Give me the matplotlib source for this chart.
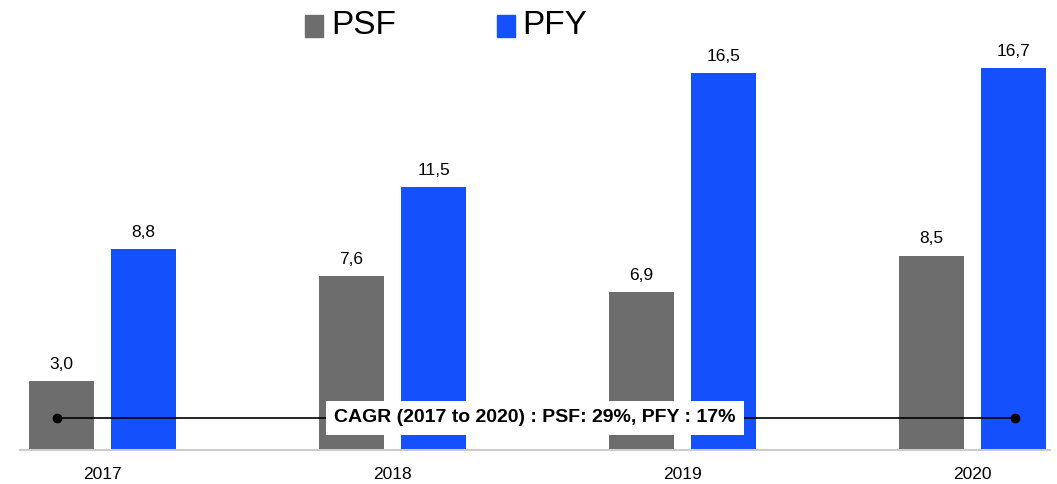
import matplotlib.pyplot as plt
from matplotlib.patches import Rectangle
import numpy as np

# data
years = ['2017', '2018', '2019', '2020']
psf = [3.0, 7.6, 6.9, 8.5]
pfy = [8.8, 11.5, 16.5, 16.7]
cagr_text = 'CAGR (2017 to 2020) : PSF: 29%, PFY : 17%'

gray = '#6d6d6d'
blue = '#1450fc'
plt.rcParams['font.family'] = ['Liberation Sans', 'DejaVu Sans']

fig = plt.figure(figsize=(10.57, 4.84), dpi=100)
ax = fig.add_axes([20/1057, 34/484, 1030/1057, 440/484])

x = np.arange(len(years))
w = 0.224
off = 0.1414
ax.bar(x - off, psf, w, color=gray)
ax.bar(x + off, pfy, w, color=blue)

def fmt(v):
    return ('%.1f' % v).replace('.', ',')

for i in range(len(years)):
    ax.text(x[i] - off, psf[i] + 0.4, fmt(psf[i]), ha='center', va='bottom', fontsize=12.5)
    ax.text(x[i] + off, pfy[i] + 0.4, fmt(pfy[i]), ha='center', va='bottom', fontsize=12.5)

ax.set_xlim(-0.2845, 3.267)
ax.set_ylim(0, 19.24)

# CAGR line
ax.plot([-0.157, 3.147], [1.4, 1.4], color='black', lw=1.2, marker='o', ms=6, zorder=3)
ax.text(1.49, 1.4, cagr_text, ha='center', va='center', fontsize=14, fontweight='bold',
        bbox=dict(facecolor='white', edgecolor='none', pad=6), zorder=4)

for s in ['top', 'right', 'left']:
    ax.spines[s].set_visible(False)
ax.spines['bottom'].set_color('#cccccc')
ax.spines['bottom'].set_linewidth(1.5)
ax.set_yticks([])
ax.set_xticks(x)
ax.set_xticklabels(years, fontsize=12.5)
ax.tick_params(axis='x', length=0, pad=12)

# legend
fig.patches.append(Rectangle((305/1057, 1 - 37/484), 18/1057, 22/484, transform=fig.transFigure, color=gray))
fig.text(331/1057, 1 - 26/484, 'PSF', fontsize=24, va='center')
fig.patches.append(Rectangle((497/1057, 1 - 37/484), 18/1057, 22/484, transform=fig.transFigure, color=blue))
fig.text(522/1057, 1 - 26/484, 'PFY', fontsize=24, va='center')

fig.savefig('out.png', dpi=100)
